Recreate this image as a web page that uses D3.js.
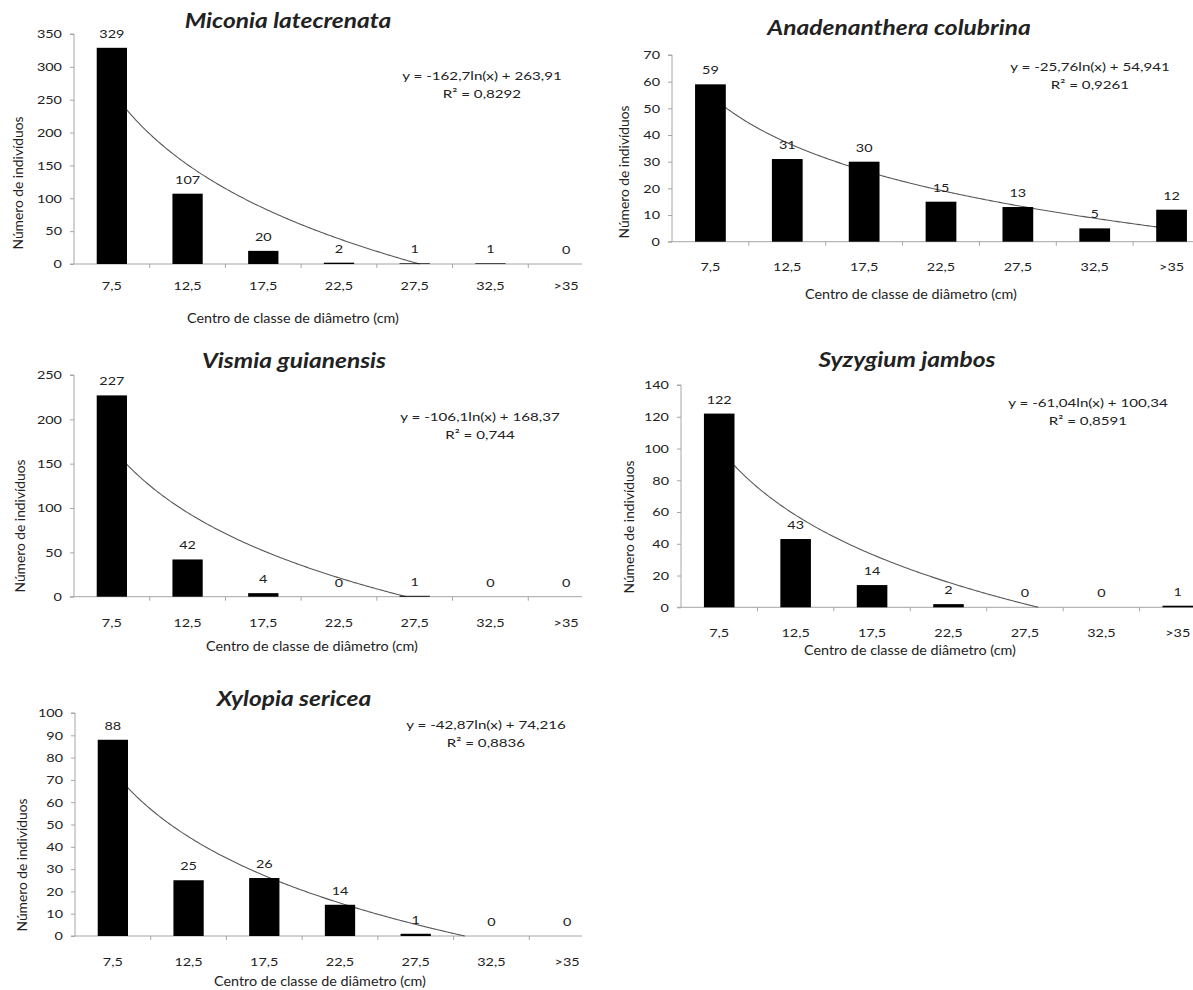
<!DOCTYPE html>
<html>
<head>
<meta charset="utf-8">
<script src="https://cdn.jsdelivr.net/npm/d3@7"></script>
<style>
  html, body { margin: 0; padding: 0; background: #fff; }
  svg { display: block; }
  text { font-family: Lato, "Open Sans", sans-serif; fill: #222; }
</style>
</head>
<body>
<svg id="chart" width="1193" height="990"></svg>
<script>
// classes de diâmetro
const categories = ["7,5", "12,5", "17,5", "22,5", "27,5", "32,5", ">35"];

const speciesNames = ["Miconia latecrenata", "Anadenanthera colubrina", "Vismia guianensis", "Syzygium jambos", "Xylopia sericea"];

const miconiaValues = [329, 107, 20, 2, 1, 1, 0];
const anadenantheraValues = [59, 31, 30, 15, 13, 5, 12];
const vismiaValues = [227, 42, 4, 0, 1, 0, 0];
const syzygiumValues = [122, 43, 14, 2, 0, 0, 1];
const xylopiaValues = [88, 25, 26, 14, 1, 0, 0];

// y = a ln(x) + b
const trendA = [-162.7, -25.76, -106.1, -61.04, -42.87];
const trendB = [263.91, 54.941, 168.37, 100.34, 74.216];
const equationLabels = ["y = -162,7ln(x) + 263,91", "y = -25,76ln(x) + 54,941", "y = -106,1ln(x) + 168,37", "y = -61,04ln(x) + 100,34", "y = -42,87ln(x) + 74,216"];
const r2Labels = ["R² = 0,8292", "R² = 0,9261", "R² = 0,744", "R² = 0,8591", "R² = 0,8836"];

const yMax = [350, 70, 250, 140, 100];
const yStep = [50, 10, 50, 20, 10];

const allValues = [miconiaValues, anadenantheraValues, vismiaValues, syzygiumValues, xylopiaValues];

// layout of each panel (pixel positions)
const layout = [
    { x0: 74, x1: 604, y0: 264, y1: 34, clipX: 582, titleX: 288, titleY: 28, eqX: 482, eqY: 80, xTitleX: 293, xTitleY: 323, xTickY: 290, yTitleX: 23, yTitleY: 183 },
    { x0: 672, x1: 1210, y0: 241.7, y1: 55, clipX: 1193, titleX: 899, titleY: 35, eqX: 1090, eqY: 71, xTitleX: 911, xTitleY: 299, xTickY: 271, yTitleX: 629, yTitleY: 172 },
    { x0: 74, x1: 604, y0: 596.7, y1: 375, clipX: 582, titleX: 294, titleY: 368, eqX: 480, eqY: 421, xTitleX: 312, xTitleY: 651, xTickY: 627, yTitleX: 25, yTitleY: 526 },
    { x0: 681, x1: 1216, y0: 607.3, y1: 385, clipX: 1193, titleX: 907, titleY: 367, eqX: 1088, eqY: 407, xTitleX: 910, xTitleY: 655, xTickY: 637, yTitleX: 634, yTitleY: 527 },
    { x0: 75, x1: 605, y0: 936, y1: 713, clipX: 582, titleX: 294, titleY: 706, eqX: 486, eqY: 729, xTitleX: 320, xTitleY: 986, xTickY: 966, yTitleX: 27, yTitleY: 865 }
];

const svg = d3.select("#chart");
const axisColor = "#a6a6a6";

// the source picture is wider than Calibri would be, so text is stretched sideways
function stretch(sel, k) {
    sel.each(function () {
        const n = this.getComputedTextLength();
        d3.select(this).attr("textLength", n * k).attr("lengthAdjust", "spacingAndGlyphs");
    });
    return sel;
}

speciesNames.forEach((name, p) => {
    const L = layout[p];
    const values = allValues[p];
    const g = svg.append("g");

    const x = d3.scaleBand().domain(categories).range([L.x0, L.x1]).paddingInner(0.6).paddingOuter(0.3);
    const xc = d3.scaleLinear().domain([0.5, 7.5]).range([L.x0, L.x1]); // for the trendline
    const y = d3.scaleLinear().domain([0, yMax[p]]).range([L.y0, L.y1]);
    const yTicks = d3.range(0, yMax[p] + 1, yStep[p]);

    // y axis
    const yAxis = d3.axisLeft(y).tickValues(yTicks).tickSize(4).tickFormat("");
    const ya = g.append("g").attr("transform", `translate(${L.x0},0)`).call(yAxis);
    ya.select(".domain").attr("stroke", axisColor).attr("d", `M-4,${L.y1}H0V${L.y0}`);
    ya.selectAll(".tick line").attr("stroke", axisColor);

    stretch(g.selectAll(".ylab").data(yTicks).enter().append("text")
        .attr("x", L.x0 - 12)
        .attr("y", d => y(d) + 4.3)
        .attr("text-anchor", "end")
        .attr("font-size", 12)
        .text(d => d), 1.2);

    // x axis line with category separators
    const bw = (L.x1 - L.x0) / categories.length;
    g.append("line")
        .attr("x1", L.x0 - 4).attr("x2", Math.min(L.x1, L.clipX))
        .attr("y1", L.y0).attr("y2", L.y0)
        .attr("stroke", axisColor);
    g.selectAll(".sep").data(d3.range(1, categories.length + 1).filter(i => L.x0 + i * bw <= L.clipX))
        .enter().append("line")
        .attr("x1", i => L.x0 + i * bw).attr("x2", i => L.x0 + i * bw)
        .attr("y1", L.y0).attr("y2", L.y0 + 4)
        .attr("stroke", axisColor);

    stretch(g.selectAll(".xlab").data(categories).enter().append("text")
        .attr("x", d => x(d) + x.bandwidth() / 2)
        .attr("y", L.xTickY)
        .attr("text-anchor", "middle")
        .attr("font-size", 12)
        .text(d => d), 1.2);

    // trendline (behind bars)
    const root = Math.exp(trendB[p] / -trendA[p]);
    const xEnd = Math.min(7, root);
    const pts = d3.range(1, xEnd, 0.02).concat([xEnd]);
    const line = d3.line()
        .x(t => xc(t))
        .y(t => y(Math.max(0, trendA[p] * Math.log(t) + trendB[p])));
    g.append("path")
        .attr("d", line(pts))
        .attr("fill", "none")
        .attr("stroke", "#595959")
        .attr("stroke-width", 1.1);

    // bars
    g.selectAll(".bar").data(values).enter().append("rect")
        .attr("x", (d, i) => x(categories[i]))
        .attr("width", x.bandwidth())
        .attr("y", d => y(d))
        .attr("height", d => L.y0 - y(d))
        .attr("fill", "#000");

    // data labels
    stretch(g.selectAll(".vlab").data(values).enter().append("text")
        .attr("x", (d, i) => x(categories[i]) + x.bandwidth() / 2)
        .attr("y", d => y(d) - 10)
        .attr("text-anchor", "middle")
        .attr("font-size", 12)
        .text(d => d), 1.2);

    // equation
    stretch(g.append("text").attr("x", L.eqX).attr("y", L.eqY)
        .attr("text-anchor", "middle").attr("font-size", 12)
        .text(equationLabels[p]), 1.26);
    stretch(g.append("text").attr("x", L.eqX).attr("y", L.eqY + 18)
        .attr("text-anchor", "middle").attr("font-size", 12)
        .text(r2Labels[p]), 1.26);

    // titles
    stretch(g.append("text").attr("x", L.titleX).attr("y", L.titleY)
        .attr("text-anchor", "middle")
        .attr("font-size", 21.5).attr("font-weight", "bold").attr("font-style", "italic")
        .attr("fill", "#000")
        .text(name), 1.14);

    stretch(g.append("text").attr("x", L.xTitleX).attr("y", L.xTitleY)
        .attr("text-anchor", "middle").attr("font-size", 13.8)
        .text("Centro de classe de diâmetro (cm)"), 1.04);

    g.append("text")
        .attr("transform", `translate(${L.yTitleX},${L.yTitleY}) rotate(-90)`)
        .attr("text-anchor", "middle").attr("font-size", 13.8)
        .text("Número de indivíduos");
});
</script>
</body>
</html>
